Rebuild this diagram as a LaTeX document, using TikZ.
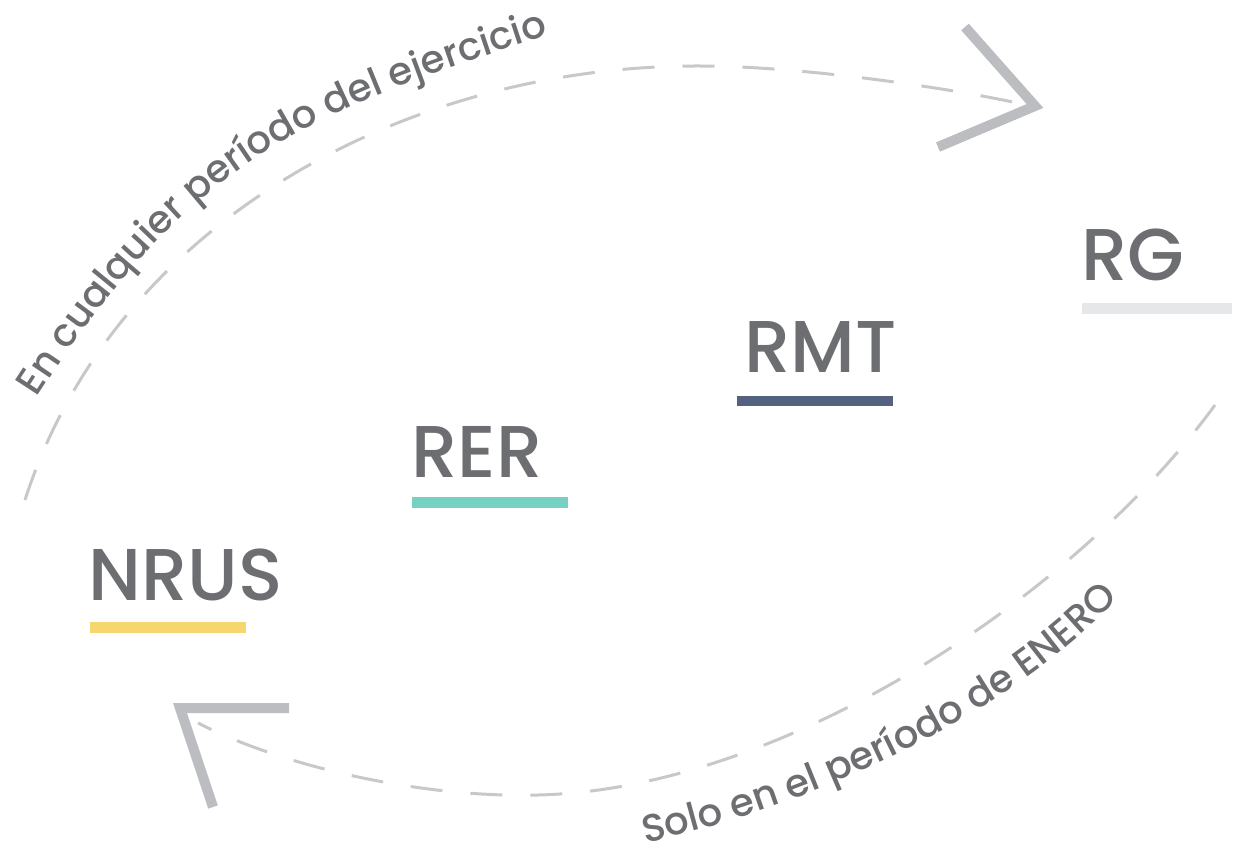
\documentclass[tikz,border=0pt]{standalone}
\usepackage{fontspec}
\setmainfont{Poppins Medium}
\usetikzlibrary{decorations.text}
\definecolor{tgray}{HTML}{6D6E71}
\definecolor{dashgray}{HTML}{C7C8CA}
\definecolor{arrowgray}{HTML}{BCBDC0}
\definecolor{rgcol}{HTML}{E6E7E8}
\definecolor{rmtcol}{HTML}{52627F}
\definecolor{rercol}{HTML}{76D1C3}
\definecolor{nruscol}{HTML}{F5D76E}
\newcommand{\curvefont}{\fontsize{29}{35}\selectfont\color{tgray}}
\begin{document}
\begin{tikzpicture}[x=0.75pt,y=-0.75pt,
  lbl/.style={font=\fontsize{55}{62}\selectfont, text=tgray, inner sep=0pt, anchor=base west},
  dashcurve/.style={draw=dashgray, line width=2.25pt, dash pattern=on 24pt off 21pt},
  chev/.style={draw=arrowgray, line width=7.5pt, line join=miter, line cap=butt}]
\useasboundingbox (0,0) rectangle (1233,849);

% labels
\node[lbl] (rg) at (1081,280) {RG};
\node[lbl] (rmt) at (744,372) {RMT};
\node[lbl] (rer) at (411,477) {RER};
\node[lbl] (nrus) at (88,600) {NRUS};

% underlines
\fill[rgcol] (1082,303) rectangle (1232,314);
\fill[rmtcol] (737,396) rectangle (893,406);
\fill[rercol] (412,497) rectangle (568,508);
\fill[nruscol] (90,622) rectangle (246,633);

% dashed curves
\coordinate (ts) at (25,500);
\coordinate (te) at (1022,104);
\coordinate (bs) at (1215,405);
\coordinate (be) at (198,723);
\draw[dashcurve] (ts) .. controls (115,220) and (410,65) .. (700,66)
  .. controls (800,66) and (950,88) .. (te);
\draw[dashcurve] (bs) .. controls (1080,590) and (800,778) .. (560,794)
  .. controls (440,802) and (290,770) .. (be);

% arrow heads
\coordinate (ta) at (1035,106);
\coordinate (ba) at (180,708);
\draw[chev] (965,27) -- (ta) -- (938,147);
\draw[chev] (289,708) -- (ba) -- (213,807);

% curved texts
\path[decorate, decoration={text along path, text align=fit to path,
  text={|\curvefont|En cualquier período del ejercicio}}]
  (37,398) .. controls (194,154) and (310,113) .. (548,35);
\path[decorate, decoration={text along path, text align=fit to path,
  text={|\curvefont|Solo en el período de ENERO}}]
  (645,843) .. controls (800,810) and (1000,722) .. (1117,600);
\end{tikzpicture}
\end{document}
